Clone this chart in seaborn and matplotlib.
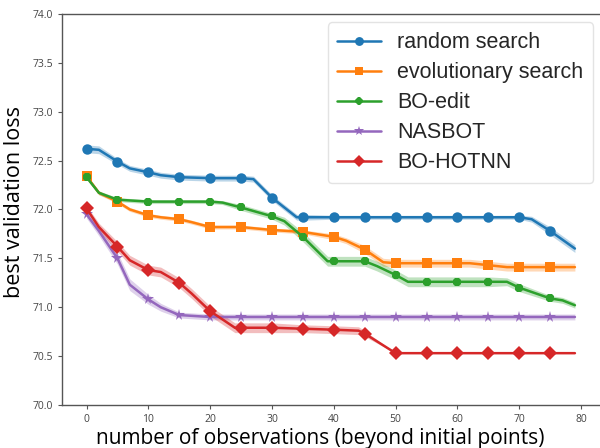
import numpy as np
import pandas as pd
import matplotlib
matplotlib.use('Agg')
import matplotlib.pyplot as plt
import seaborn as sns

# ---- data ----
names = ['random search', 'evolutionary search', 'BO-edit', 'NASBOT', 'BO-HOTNN']
colors = ['#1f77b4', '#ff7f0e', '#2ca02c', '#9467bd', '#d62728']
markers = ['o', 's', '8', '*', 'D']
msizes = [7.5, 7, 6.5, 8.5, 7]

rs_x = [0, 2, 5, 7, 10, 12, 15, 20, 25, 27, 30, 34, 35, 40, 45, 50, 55, 60, 65, 70, 72, 75, 79]
rs_y = [72.62, 72.61, 72.49, 72.42, 72.38, 72.35, 72.33, 72.32, 72.32, 72.31, 72.12, 71.92, 71.92,
        71.92, 71.92, 71.92, 71.92, 71.92, 71.92, 71.92, 71.90, 71.78, 71.60]
rs_e = [0.04, 0.04, 0.03, 0.03, 0.03, 0.03, 0.03, 0.03, 0.03, 0.03, 0.03, 0.03, 0.03,
        0.02, 0.02, 0.02, 0.02, 0.02, 0.02, 0.02, 0.03, 0.04, 0.04]

ev_x = [0, 2, 5, 7, 10, 12, 15, 17, 20, 25, 30, 35, 40, 42, 45, 48, 50, 55, 60, 62, 65, 68, 70, 75, 79]
ev_y = [72.34, 72.17, 72.08, 72.00, 71.94, 71.92, 71.90, 71.87, 71.82, 71.82, 71.79, 71.77, 71.72,
        71.68, 71.59, 71.46, 71.45, 71.45, 71.45, 71.45, 71.43, 71.41, 71.41, 71.41, 71.41]
ev_e = [0.02, 0.02, 0.02, 0.02, 0.02, 0.02, 0.02, 0.02, 0.02, 0.02, 0.02, 0.02, 0.03,
        0.03, 0.04, 0.04, 0.04, 0.04, 0.04, 0.04, 0.04, 0.04, 0.04, 0.04, 0.04]

bo_x = [0, 2, 5, 10, 15, 20, 22, 25, 30, 32, 35, 39, 40, 45, 47, 50, 52, 55, 60, 65, 68, 70, 75, 77, 79]
bo_y = [72.33, 72.17, 72.10, 72.08, 72.08, 72.08, 72.07, 72.02, 71.93, 71.88, 71.72, 71.47, 71.47,
        71.47, 71.42, 71.33, 71.26, 71.26, 71.26, 71.26, 71.26, 71.20, 71.09, 71.07, 71.02]
bo_e = [0.02, 0.02, 0.02, 0.02, 0.02, 0.02, 0.02, 0.03, 0.03, 0.04, 0.05, 0.05, 0.05,
        0.05, 0.05, 0.05, 0.05, 0.05, 0.05, 0.05, 0.04, 0.04, 0.03, 0.03, 0.03]

nb_x = [0, 2, 5, 7, 10, 12, 15, 20, 25, 30, 35, 40, 45, 50, 55, 60, 65, 70, 75, 79]
nb_y = [71.95, 71.78, 71.50, 71.23, 71.08, 71.00, 70.92, 70.90, 70.90, 70.90, 70.90, 70.90,
        70.90, 70.90, 70.90, 70.90, 70.90, 70.90, 70.90, 70.90]
nb_e = [0.04, 0.05, 0.06, 0.06, 0.05, 0.04, 0.03, 0.03, 0.03, 0.03, 0.03, 0.03,
        0.03, 0.03, 0.03, 0.03, 0.03, 0.03, 0.03, 0.03]

ho_x = [0, 2, 5, 7, 10, 12, 15, 17, 20, 24, 25, 30, 35, 40, 44, 45, 50, 55, 60, 65, 70, 75, 79]
ho_y = [72.01, 71.82, 71.62, 71.48, 71.38, 71.36, 71.25, 71.14, 70.96, 70.79, 70.79, 70.79,
        70.78, 70.77, 70.76, 70.73, 70.53, 70.53, 70.53, 70.53, 70.53, 70.53, 70.53]
ho_e = [0.03, 0.04, 0.05, 0.05, 0.05, 0.05, 0.05, 0.05, 0.05, 0.05, 0.05, 0.05,
        0.04, 0.04, 0.04, 0.03, 0.0, 0.0, 0.0, 0.0, 0.0, 0.0, 0.0]

series = [(rs_x, rs_y, rs_e), (ev_x, ev_y, ev_e), (bo_x, bo_y, bo_e),
          (nb_x, nb_y, nb_e), (ho_x, ho_y, ho_e)]

sns.set_style('ticks')
plt.rcParams['font.family'] = ['Open Sans', 'DejaVu Sans']

fig, ax = plt.subplots(figsize=(6, 4.48), dpi=100)
fig.subplots_adjust(left=0.103, right=1.02, bottom=0.096, top=0.969)

for name, c, m, ms, (xs, ys, es) in zip(names, colors, markers, msizes, series):
    df = pd.DataFrame({'x': xs, 'y': ys, 'e': es})
    # markers only on every 5th observation, up to 75
    mark_idx = [i for i, v in enumerate(xs) if v % 5 == 0 and v <= 75]
    lo = df['y'] - df['e']
    hi = df['y'] + df['e']
    ax.fill_between(df['x'], lo, hi, color=c, alpha=0.3, linewidth=0)
    sns.lineplot(data=df, x='x', y='y', ax=ax, color=c, marker=m, markersize=ms,
                 markevery=mark_idx, markeredgewidth=0, linewidth=1.8, label=name)

ax.set_xlim(-4, 85)
ax.set_ylim(70.0, 74.0)
ax.set_xticks(np.arange(0, 81, 10))
ax.set_yticks(np.arange(70.0, 74.01, 0.5))
ax.set_yticklabels([f'{v:.1f}' for v in np.arange(70.0, 74.01, 0.5)])
ax.tick_params(labelsize=7.5, labelcolor='#444444', color='#555555', length=3, width=0.8)
for s in ['left', 'bottom', 'top']:
    ax.spines[s].set_color('#555555')
    ax.spines[s].set_linewidth(1.0)
ax.spines['right'].set_visible(False)

ax.set_xlabel('number of observations (beyond initial points)', fontsize=15, color='black')
ax.set_ylabel('best validation loss', fontsize=15.5, color='black')
ax.xaxis.set_label_coords(0.469, -0.06)
ax.yaxis.set_label_coords(-0.067, 0.52)

leg = ax.legend(loc='upper right', bbox_to_anchor=(0.966, 0.978), frameon=True,
                handlelength=2.05, handletextpad=0.75, borderpad=0.45, labelspacing=0.42,
                markerscale=0.85, borderaxespad=0,
                prop={'family': ['Liberation Sans', 'DejaVu Sans'], 'size': 15.5})
leg.get_frame().set_edgecolor('#dddddd')

fig.savefig('out.png', dpi=100)
